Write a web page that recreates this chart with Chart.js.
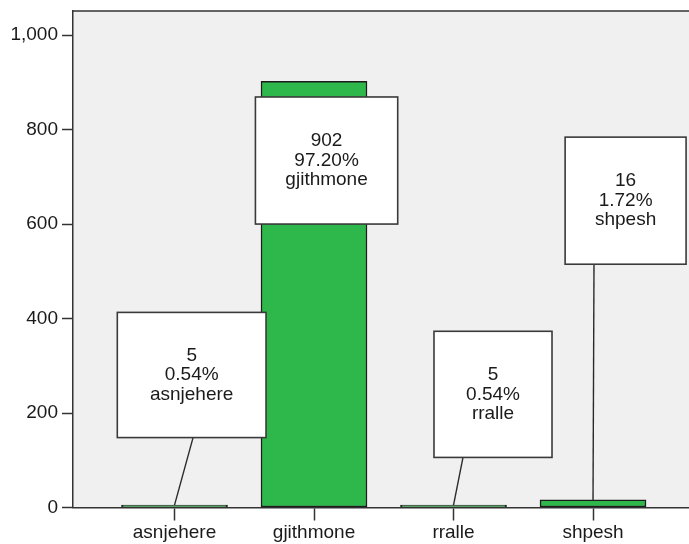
<!DOCTYPE html>
<html>
<head>
<meta charset="utf-8">
<script src="https://cdn.jsdelivr.net/npm/chart.js@4/dist/chart.umd.min.js"></script>
<style>
  html, body { margin: 0; padding: 0; background: #ffffff; overflow: hidden; }
  #wrap { width: 689px; height: 544px; }
</style>
</head>
<body>
<div id="wrap"><canvas id="c" width="689" height="544"></canvas></div>
<script>
// ---- data ----
const categories = ['asnjehere', 'gjithmone', 'rralle', 'shpesh'];
const counts = [5, 902, 5, 16];
const yTicks = [0, 200, 400, 600, 800, 1000];

// ---- annotation box layout (in data units, relative to category centre) ----
const boxLeft   = [-0.41, -0.42, -0.14, -0.20];
const boxRight  = [ 0.656, 0.60, 0.706, 0.667];
const boxTop    = [413, 869, 373, 784];
const boxBottom = [148, 600, 106, 515];
const leaderX   = [0.133, null, 0.068, 0.007];

const total = counts.reduce((a, b) => a + b, 0);
const FONT = "'Liberation Sans', Arial, sans-serif";
const FS = 19;

const bg = {
  id: 'bg',
  beforeDraw(chart) {
    const { ctx, chartArea: a } = chart;
    ctx.save();
    ctx.fillStyle = '#f0f0f0';
    ctx.fillRect(a.left, a.top, a.right - a.left, a.bottom - a.top);
    ctx.strokeStyle = '#333';
    ctx.lineWidth = 1.5;
    ctx.beginPath();
    ctx.moveTo(a.left, a.top);
    ctx.lineTo(a.right, a.top);
    ctx.stroke();
    ctx.restore();
  }
};

const boxes = {
  id: 'boxes',
  afterDatasetsDraw(chart) {
    const { ctx } = chart;
    const xs = chart.scales.x, ys = chart.scales.y;
    ctx.save();
    categories.forEach((cat, i) => {
      const l = xs.getPixelForValue(i + boxLeft[i]);
      const r = xs.getPixelForValue(i + boxRight[i]);
      const t = ys.getPixelForValue(boxTop[i]);
      const b = ys.getPixelForValue(boxBottom[i]);
      if (leaderX[i] !== null) {
        ctx.strokeStyle = '#2a2a2a';
        ctx.lineWidth = 1.4;
        ctx.beginPath();
        ctx.moveTo(xs.getPixelForValue(i + leaderX[i]), b);
        ctx.lineTo(xs.getPixelForValue(i), ys.getPixelForValue(counts[i]));
        ctx.stroke();
      }
      ctx.fillStyle = '#ffffff';
      ctx.fillRect(l, t, r - l, b - t);
      ctx.strokeStyle = '#3a3a3a';
      ctx.lineWidth = 1.6;
      ctx.strokeRect(l, t, r - l, b - t);
      const pct = (counts[i] / total * 100).toFixed(2) + '%';
      const lines = [String(counts[i]), pct, cat];
      ctx.fillStyle = '#1a1a1a';
      ctx.font = FS + 'px ' + FONT;
      ctx.textAlign = 'center';
      ctx.textBaseline = 'middle';
      const cx = (l + r) / 2, cy = (t + b) / 2;
      const lh = 19.5;
      lines.forEach((s, k) => ctx.fillText(s, cx, cy + (k - 1) * lh));
    });
    ctx.restore();
  }
};

new Chart(document.getElementById('c'), {
  type: 'bar',
  data: {
    datasets: [{
      data: counts.map((v, i) => ({ x: i, y: v })),
      backgroundColor: '#2eb74b',
      borderColor: '#1c1c1c',
      borderWidth: 1.5,
      borderSkipped: false,
      barThickness: 106
    }]
  },
  options: {
    responsive: false,
    animation: false,
    events: [],
    layout: { padding: { top: 11, left: 0, right: 0, bottom: 0 } },
    plugins: { legend: { display: false }, tooltip: { enabled: false } },
    scales: {
      x: {
        type: 'linear',
        offset: false,
        min: -0.7276,
        max: 3.688,
        afterBuildTicks(s) { s.ticks = categories.map((c, i) => ({ value: i })); },
        afterFit(s) { s.height = 36.5; s.paddingLeft = 0; s.paddingRight = 0; },
        ticks: {
          callback: (v) => categories[v] !== undefined ? categories[v] : '',
          font: { family: FONT, size: FS },
          color: '#1a1a1a',
          padding: 1,
          maxRotation: 0,
          autoSkip: false
        },
        grid: { offset: false, drawOnChartArea: false, tickLength: 13, tickColor: '#333', tickWidth: 1.5 },
        border: { display: true, color: '#333', width: 1.5 }
      },
      y: {
        min: 0,
        max: 1051,
        afterBuildTicks(s) { s.ticks = yTicks.map(v => ({ value: v })); },
        afterFit(s) { s.width = 73; s.paddingTop = 0; s.paddingBottom = 0; },
        ticks: {
          callback: (v) => Number(v).toLocaleString('en-US'),
          font: { family: FONT, size: FS },
          color: '#1a1a1a',
          padding: 4
        },
        grid: { drawOnChartArea: false, tickLength: 11, tickColor: '#333', tickWidth: 1.5 },
        border: { display: true, color: '#333', width: 1.5 }
      }
    }
  },
  plugins: [bg, boxes]
});
</script>
</body>
</html>
